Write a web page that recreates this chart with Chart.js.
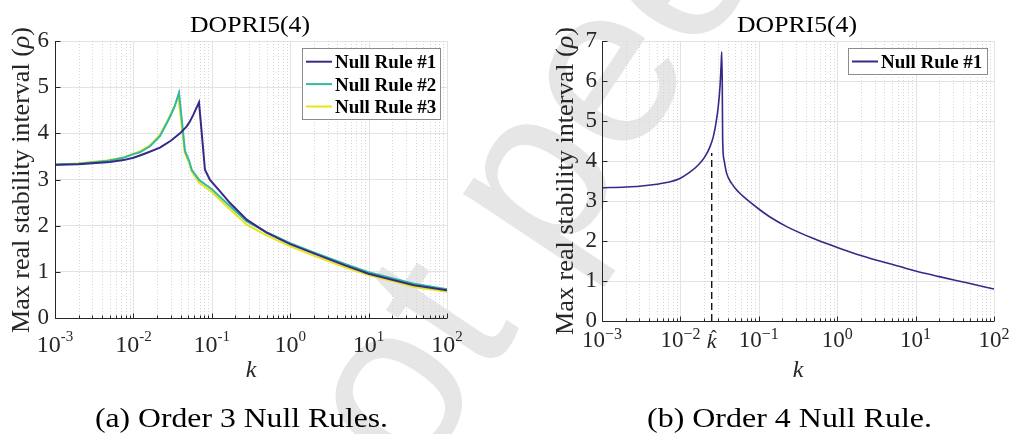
<!DOCTYPE html>
<html><head><meta charset="utf-8">
<script src="https://cdn.jsdelivr.net/npm/chart.js@4.4.0/dist/chart.umd.min.js"></script>
<style>
html,body{margin:0;padding:0;background:#fff;}
#wrap{position:relative;width:1010px;height:434px;overflow:hidden;background:#fff;}
#wm{position:absolute;left:0;top:0;z-index:0}
canvas{position:absolute;top:0;z-index:1}
#txt{position:absolute;left:0;top:0;z-index:2;pointer-events:none}
</style></head><body>
<div id="wrap">
<svg id="wm" width="1010" height="434"><text x="343" y="593" transform="rotate(-56.3 343 593)" font-family="Liberation Sans" font-size="230" fill="#e6e6e6">not peer reviewed</text></svg>
<canvas id="c1" width="505" height="434" style="left:0px"></canvas>
<canvas id="c2" width="505" height="434" style="left:505px"></canvas>
<svg id="txt" width="1010" height="434" font-family="Liberation Serif" fill="#262626">
  <text x="250" y="32" font-size="23" text-anchor="middle" textLength="120" lengthAdjust="spacingAndGlyphs" fill="#000">DOPRI5(4)</text>
  <text x="797" y="32" font-size="23" text-anchor="middle" textLength="120" lengthAdjust="spacingAndGlyphs" fill="#000">DOPRI5(4)</text>
  <text transform="translate(29,180) rotate(-90)" font-size="25" text-anchor="middle" textLength="306" lengthAdjust="spacingAndGlyphs">Max real stability interval (<tspan font-style="italic">ρ</tspan>)</text>
  <text transform="translate(573,181) rotate(-90)" font-size="25" text-anchor="middle" textLength="308" lengthAdjust="spacingAndGlyphs">Max real stability interval (<tspan font-style="italic">ρ</tspan>)</text>
  <text x="251" y="377" font-size="24" font-style="italic" text-anchor="middle">k</text>
  <text x="798" y="377" font-size="24" font-style="italic" text-anchor="middle">k</text>
  <text x="241.5" y="427" font-size="28" text-anchor="middle" textLength="293" lengthAdjust="spacingAndGlyphs" fill="#000">(a) Order 3 Null Rules.</text>
  <text x="789.5" y="427" font-size="28" text-anchor="middle" textLength="285" lengthAdjust="spacingAndGlyphs" fill="#000">(b) Order 4 Null Rule.</text>
</svg>
</div>
<script>
// ---------- data ----------
const xMajorTicks = [0.001, 0.01, 0.1, 1, 10, 100];
const expLabelsA = ['-3', '-2', '-1', '0', '1', '2'];
const expLabelsB = ['\u22123', '\u22122', '\u22121', '0', '1', '2'];
const yTicksA = [0, 1, 2, 3, 4, 5, 6];
const yTicksB = [0, 1, 2, 3, 4, 5, 6, 7];

const seriesNamesA = ['Null Rule #1', 'Null Rule #2', 'Null Rule #3'];
const k1 = [0.001, 0.002, 0.003, 0.005, 0.0075, 0.01, 0.0121, 0.015, 0.0218, 0.03, 0.0393, 0.0479, 0.0527, 0.058, 0.0687, 0.0818, 0.0948, 0.125, 0.171, 0.279, 0.5, 1, 2, 5, 10, 20, 38, 100];
const r1 = [3.32, 3.33, 3.35, 3.38, 3.42, 3.47, 3.52, 3.58, 3.69, 3.84, 4.00, 4.15, 4.26, 4.40, 4.67, 3.21, 2.99, 2.76, 2.49, 2.13, 1.85, 1.60, 1.40, 1.14, 0.96, 0.83, 0.71, 0.60];
const k2 = [0.001, 0.002, 0.0046, 0.0075, 0.01, 0.0121, 0.0163, 0.0218, 0.0266, 0.0293, 0.0339, 0.0382, 0.0455, 0.0516, 0.0554, 0.069, 0.1, 0.171, 0.279, 0.5, 1, 2, 5, 10, 20, 38, 100];
const r2 = [3.32, 3.34, 3.40, 3.47, 3.55, 3.59, 3.72, 3.94, 4.22, 4.36, 4.60, 4.88, 3.62, 3.40, 3.21, 2.99, 2.79, 2.42, 2.09, 1.86, 1.62, 1.42, 1.17, 0.99, 0.86, 0.74, 0.62];
const k3 = [0.001, 0.002, 0.0046, 0.0075, 0.01, 0.0121, 0.0163, 0.0218, 0.0266, 0.0293, 0.0339, 0.0375, 0.0452, 0.0516, 0.0554, 0.069, 0.1, 0.171, 0.279, 0.5, 1, 2, 5, 10, 20, 38, 100];
const r3 = [3.32, 3.35, 3.41, 3.48, 3.56, 3.61, 3.74, 3.97, 4.24, 4.38, 4.62, 4.79, 3.58, 3.35, 3.17, 2.93, 2.73, 2.35, 2.02, 1.79, 1.55, 1.35, 1.10, 0.93, 0.80, 0.67, 0.57];

const seriesNamesB = ['Null Rule #1'];
const kB = [0.001, 0.002, 0.003, 0.005, 0.0074, 0.01, 0.0132, 0.0169, 0.0206, 0.0239, 0.0263, 0.0284, 0.0304, 0.032, 0.033, 0.0337, 0.0342, 0.0346, 0.036, 0.0389, 0.045, 0.0548, 0.0701, 0.1, 0.139, 0.227, 0.5, 1, 2, 6.32, 10, 20, 44.9, 100];
const rB = [3.33, 3.35, 3.37, 3.42, 3.48, 3.57, 3.72, 3.90, 4.11, 4.36, 4.61, 4.94, 5.36, 5.86, 6.36, 6.73, 5.90, 4.53, 4.03, 3.69, 3.44, 3.23, 3.04, 2.80, 2.60, 2.36, 2.06, 1.84, 1.64, 1.36, 1.25, 1.11, 0.955, 0.80];
const kHat = 0.0251;
const kHatTop = 4.2;

// ---------- helpers ----------
const colors = ['#352a87', '#33b8a1', '#e6e61a'];
const xy = (ks, rs) => ks.map((k, i) => ({x: k, y: rs[i]}));
const minorMult = [2, 3, 4, 5, 6, 7, 8, 9];
const SERIF = '"Liberation Serif", "Times New Roman", serif';

const decor = {
  id: 'decor',
  beforeDatasetsDraw(chart, args, o) {
    const {ctx, chartArea: a, scales: {x}} = chart;
    ctx.save();
    ctx.lineWidth = 1;
    ctx.strokeStyle = '#d6d6d6';
    ctx.setLineDash([1, 2]);
    xMajorTicks.slice(0, -1).forEach(d => minorMult.forEach(m => {
      const px = Math.round(x.getPixelForValue(d * m)) + 0.5;
      ctx.beginPath(); ctx.moveTo(px, a.top); ctx.lineTo(px, a.bottom); ctx.stroke();
    }));
    ctx.setLineDash([]);
    ctx.strokeStyle = '#e3e3e3';
    xMajorTicks.forEach(d => {
      const px = Math.round(x.getPixelForValue(d)) + 0.5;
      ctx.beginPath(); ctx.moveTo(px, a.top); ctx.lineTo(px, a.bottom); ctx.stroke();
    });
    ctx.restore();
  },
  afterDatasetsDraw(chart, args, o) {
    const {ctx, chartArea: a, scales: {x, y}} = chart;
    ctx.save();
    ctx.strokeStyle = '#262626';
    ctx.lineWidth = 1;
    const L = Math.round(a.left) + 0.5, B = Math.round(a.bottom) + 0.5;
    ctx.beginPath(); ctx.moveTo(L, a.top); ctx.lineTo(L, B); ctx.lineTo(a.right, B); ctx.stroke();
    xMajorTicks.forEach(d => {
      const px = Math.round(x.getPixelForValue(d)) + 0.5;
      ctx.beginPath(); ctx.moveTo(px, B); ctx.lineTo(px, B - 5); ctx.stroke();
    });
    xMajorTicks.slice(0, -1).forEach(d => minorMult.forEach(m => {
      const px = Math.round(x.getPixelForValue(d * m)) + 0.5;
      ctx.beginPath(); ctx.moveTo(px, B); ctx.lineTo(px, B - 3); ctx.stroke();
    }));
    o.yTicks.forEach(v => {
      const py = Math.round(y.getPixelForValue(v)) + 0.5;
      ctx.beginPath(); ctx.moveTo(L, py); ctx.lineTo(L + 5, py); ctx.stroke();
    });
    ctx.fillStyle = '#262626';
    ctx.textBaseline = 'alphabetic';
    ctx.textAlign = 'left';
    xMajorTicks.forEach((d, i) => {
      const px = x.getPixelForValue(d);
      ctx.font = o.baseSize + 'px ' + SERIF;
      const wb = ctx.measureText('10').width;
      ctx.font = o.expSize + 'px ' + SERIF;
      const we = ctx.measureText(o.exps[i]).width;
      const sx = px - (wb + we) / 2;
      ctx.font = o.baseSize + 'px ' + SERIF;
      ctx.fillText('10', sx, o.baseY);
      ctx.font = o.expSize + 'px ' + SERIF;
      ctx.fillText(o.exps[i], sx + wb, o.expY);
    });
    if (o.hat) {
      const px = x.getPixelForValue(o.hat.value);
      ctx.textAlign = 'center';
      ctx.font = 'italic 22px ' + SERIF;
      ctx.fillText('k', px, 348);
      ctx.font = '18px ' + SERIF;
      ctx.fillText('\u02C6', px + 2, 343);
    }
    const lg = o.legend;
    ctx.fillStyle = '#fff';
    ctx.fillRect(lg.x, lg.y, lg.w, lg.h);
    ctx.strokeStyle = '#8c8c8c';
    ctx.strokeRect(lg.x + 0.5, lg.y + 0.5, lg.w, lg.h);
    ctx.textAlign = 'left';
    ctx.font = 'bold 19px ' + SERIF;
    lg.names.forEach((n, i) => {
      const ry = lg.row0 + i * lg.step;
      ctx.strokeStyle = lg.colors[i];
      ctx.lineWidth = 2;
      ctx.beginPath(); ctx.moveTo(lg.x + 4, ry); ctx.lineTo(lg.x + 30, ry); ctx.stroke();
      ctx.fillStyle = '#000';
      ctx.fillText(n, lg.x + 33, ry + 6.5);
    });
    ctx.restore();
  }
};

const baseOpts = (yMax, yW, xH, padRight, yPad, yTicks, decorOpts) => ({
  responsive: false, animation: false, devicePixelRatio: 1,
  layout: {padding: {top: 41, right: padRight, left: 0, bottom: 0}},
  plugins: {legend: {display: false}, tooltip: {enabled: false}, decor: Object.assign({yTicks}, decorOpts)},
  scales: {
    x: {type: 'logarithmic', min: 0.001, max: 100, ticks: {display: false}, grid: {display: false}, border: {display: false},
        afterFit(s) { s.height = xH; }},
    y: {type: 'linear', min: 0, max: yMax,
        afterBuildTicks(s) { s.ticks = yTicks.map(v => ({value: v})); },
        ticks: {font: {family: SERIF, size: 23}, color: '#262626', padding: yPad},
        grid: {color: '#e3e3e3', drawTicks: false}, border: {display: false},
        afterFit(s) { s.width = yW; }}
  }
});

new Chart(document.getElementById('c1'), {
  type: 'line',
  data: {datasets: [
    {label: seriesNamesA[0], data: xy(k1, r1), borderColor: colors[0], borderWidth: 2, pointRadius: 0, tension: 0, fill: false},
    {label: seriesNamesA[1], data: xy(k2, r2), borderColor: colors[1], borderWidth: 2, pointRadius: 0, tension: 0, fill: false},
    {label: seriesNamesA[2], data: xy(k3, r3), borderColor: colors[2], borderWidth: 2, pointRadius: 0, tension: 0, fill: false}
  ]},
  options: baseOpts(6, 55, 116, 58, 6, yTicksA, {
    exps: expLabelsA, baseSize: 24, expSize: 15, baseY: 352, expY: 341,
    legend: {x: 302, y: 48, w: 138, h: 71, row0: 61.7, step: 22.4, names: seriesNamesA, colors: colors}
  }),
  plugins: [decor]
});

new Chart(document.getElementById('c2'), {
  type: 'line',
  data: {datasets: [
    {label: seriesNamesB[0], data: xy(kB, rB), borderColor: colors[0], borderWidth: 1.6, pointRadius: 0, cubicInterpolationMode: 'monotone', fill: false},
    {label: 'khat', data: xy([kHat, kHat], [0, kHatTop]), borderColor: '#000', borderWidth: 1.3, borderDash: [7, 4], pointRadius: 0, fill: false}
  ]},
  options: baseOpts(7, 97, 113, 16, 5, yTicksB, {
    exps: expLabelsB, baseSize: 23, expSize: 16, baseY: 347, expY: 339,
    hat: {value: kHat},
    legend: {x: 343, y: 48, w: 139, h: 26, row0: 61.5, step: 22.4, names: seriesNamesB, colors: colors}
  }),
  plugins: [decor]
});
</script>
</body></html>
